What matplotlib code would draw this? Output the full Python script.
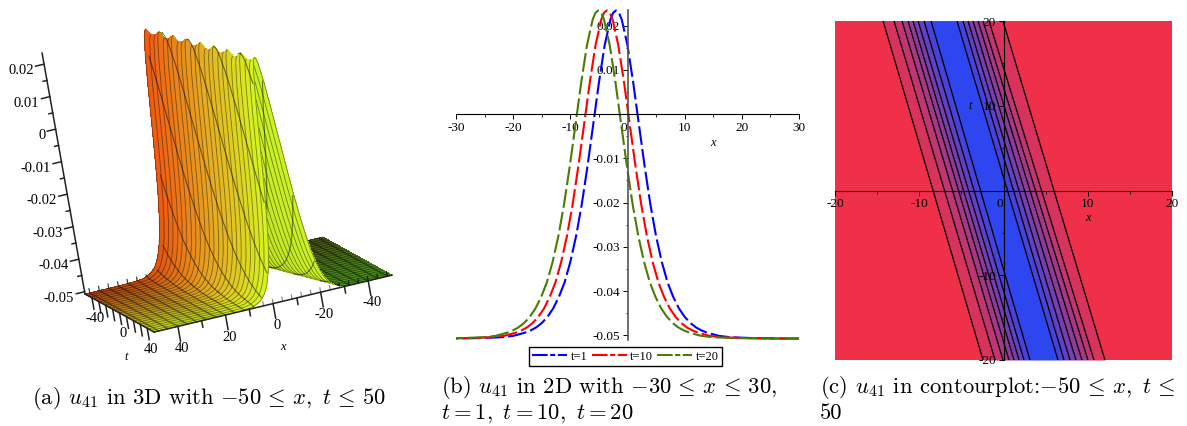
import numpy as np
import matplotlib
matplotlib.use('Agg')
import matplotlib.pyplot as plt
from matplotlib.lines import Line2D
from mpl_toolkits.mplot3d import proj3d

W, H = 1187, 426

# wave profile: distance from crest -> u
offset = [0, 0.5, 1, 2, 3, 4, 5, 6, 7, 8, 9, 10, 11, 12, 13, 14, 15, 16, 18, 20, 24, 30, 75]
profile = [0.0234, 0.0229, 0.0213, 0.0155, 0.0071, -0.0024, -0.0118, -0.0204, -0.0276, -0.0334,
           -0.0380, -0.0413, -0.0439, -0.0458, -0.0472, -0.0482, -0.0489, -0.0494, -0.0501,
           -0.0504, -0.0506, -0.0507, -0.0507]

# crest position in panel (b) for t=1, t=10, t=20
peak_x = [-2.0, -3.6, -5.1]
t_labels = ['t=1', 't=10', 't=20']
line_colors = ['#0000ff', '#ff0000', '#4b7b00']

# panel (a): crest heights along the scalloped ridge, crest position at t=-50 and t=50
crest_t = [-50, -45.8, -41.7, -37.5, -33.3, -29.2, -25, -20.8, -16.7, -12.5, -8.3, -4.2, 0, 4.2, 8.3,
           12.5, 16.7, 20.8, 25, 29.2, 33.3, 37.5, 41.7, 45.8, 50]
crest_u = [.0232, .0218, .0221, .0234, .0219, .0220, .0234, .0218, .0222, .0234, .0218, .0221, .0234,
           .0219, .0220, .0234, .0218, .0222, .0234, .0218, .0221, .0234, .0219, .0220, .0232]
crest_ends = [6.6, -10.2]
x_lines = [-48, -44, -40, -36, -32, -28, -24, -20, -16, -12, -8, -4, 0, 4, 8, 12, 16, 20, 24, 28, 32,
           36, 40, 44, 48]

# panel (c): contour lines, x at t=20 and at t=-20
contour_top = [-14.29, -12.99, -12.04, -11.33, -10.74, -10.14, -9.43, -8.60,
               -5.52, -4.80, -4.21, -3.62, -3.02, -2.43, -1.72, -0.06]
contour_bottom = [-2.43, -1.01, -0.06, 0.65, 1.25, 1.84, 2.43, 3.14,
                  6.47, 7.18, 7.89, 8.60, 9.31, 10.02, 10.74, 12.04]

plt.rcParams['mathtext.fontset'] = 'cm'
plt.rcParams['axes.unicode_minus'] = False
plt.rcParams['font.family'] = ['Liberation Serif', 'DejaVu Serif']

fig = plt.figure(figsize=(W / 100, H / 100), dpi=100)


def px_axes(x0, y0, x1, y1, **kw):
    return fig.add_axes([x0 / W, 1 - y1 / H, (x1 - x0) / W, (y1 - y0) / H], **kw)


def mix(a, b, f):
    f = np.asarray(f)[..., None]
    return np.asarray(a) * (1 - f) + np.asarray(b) * f


# ---- panel (a)
off = np.array(offset)
prof = np.array(profile)
d_full = np.r_[-off[::-1], off[1:]]
u_full = np.r_[prof[::-1], prof[1:]]
base_u = prof[-1]
slope = (crest_ends[1] - crest_ends[0]) / 100.0
c0 = crest_ends[0] + 50 * slope

T = np.array(crest_t)[:, None] * np.ones(len(d_full))
X = np.clip(c0 + slope * T + d_full, -50, 50)
scale = (np.array(crest_u)[:, None] - base_u) / (prof[0] - base_u)
U = base_u + (u_full - base_u) * scale

ax3 = fig.add_axes([-0.1, -0.3, 0.65, 1.6], projection='3d', proj_type='ortho', computed_zorder=False)
aspect = (1.0087, 0.9395, 1.0)
ax3.set_box_aspect(aspect)
ax3.set_xticks([])
ax3.set_yticks([])
ax3.set_zticks([])
ax3.set_xlim(-50, 50, view_margin=0)
ax3.set_ylim(-50, 50, view_margin=0)
ax3.set_zlim(base_u, prof[0], view_margin=0)
ax3.view_init(elev=12.6, azim=74.9, roll=10.1)
ax3.set_axis_off()


def face_colors(j0, j1):
    tm = (T[:-1, j0:j1 - 1] + T[1:, j0:j1 - 1]) / 2
    xm = X[:-1, j0:j1 - 1]
    dm = d_full[j0:j1 - 1] * np.ones_like(xm)
    f = (tm + 50) / 100
    warm = np.where(f[..., None] < 0.5, mix((.94, .35, .07), (.90, .66, .14), f * 2),
                    mix((.90, .66, .14), (.84, .96, .14), f * 2 - 1))
    shade = np.clip(1.0 - (xm - 12) / 38 * 0.42, 0.58, 1.0)
    col = warm * shade[..., None]
    lime = mix((.68, .84, .12), (.80, .95, .16), f)
    col = np.where(dm[..., None] < 0, lime, col)
    dark = mix((.28, .32, .08), (.30, .58, .10), f)
    return np.where(dm[..., None] < -16, dark, col)


def draw_sheet(d_lo, d_hi, z):
    j0 = np.where(d_full >= d_lo)[0][0]
    j1 = np.where(d_full <= d_hi)[0][-1] + 1
    ax3.plot_surface(X[:, j0:j1], T[:, j0:j1], U[:, j0:j1], facecolors=face_colors(j0, j1), shade=False,
                     rstride=1, cstride=1, linewidth=0, antialiased=False, zorder=z)
    for i in range(len(crest_t)):
        ax3.plot(X[i, j0:j1], T[i, j0:j1], U[i, j0:j1], color='black', alpha=0.45, lw=0.6, zorder=z + 0.1)
    dd = d_full[j0:j1]
    uu = u_full[j0:j1]
    for xl in x_lines:
        tl = (xl - dd - c0) / slope
        # the steep part stops at the edge of the sheet, the flat part runs along the ground up to it
        steep = (np.abs(dd) <= 16) & (np.abs(tl) <= 50)
        flat = np.abs(dd) >= 16
        for keep in (steep, flat):
            if keep.sum() > 1:
                ax3.plot(np.full(keep.sum(), xl), np.clip(tl[keep], -50, 50), uu[keep], color='black',
                         alpha=0.5, lw=0.8, zorder=z + 0.2)


draw_sheet(-75, -16, 1)
draw_sheet(-16, 0, 2)
draw_sheet(0, 75, 3)

axis_kw = dict(color='#222222', lw=1.1, zorder=6)
ax3.plot([50, -50], [50, 50], [base_u, base_u], **axis_kw)
ax3.plot([50, 50], [-50, 50], [base_u, base_u], **axis_kw)
ax3.plot([50, 50], [-50, -50], [base_u, prof[0]], **axis_kw)
for v in range(-40, 41, 10):
    ax3.plot([v, v], [50, 50], [base_u, base_u - (0.0045 if v % 20 == 0 else 0.002)], **axis_kw)
    ax3.plot([50, 50], [v, v], [base_u, base_u - 0.0035], **axis_kw)
for v in [40, 20, 0, -20, -40]:
    ax3.text(v, 50, base_u - 0.0068, str(v), ha='center', va='center', fontsize=10.5, zorder=7)
for v in [-40, 0, 40]:
    ax3.text(50, v, base_u - 0.0064, str(v), ha='center', va='center', fontsize=10.5, zorder=7)
for k in range(-10, 5):
    ux = k * 0.005
    major = k % 2 == 0
    ax3.plot([50, 50 + (3.5 if major else 1.6)], [-50, -50], [ux, ux], **axis_kw)
    if major:
        lab = '0' if k == 0 else ('%.2f' % ux)
        ax3.text(54.6, -50, ux - 0.0012, lab, ha='right', va='center', fontsize=10.5, zorder=7)
ax3.text(-1, 50, base_u - 0.0135, 'x', style='italic', ha='center', va='center', fontsize=9, zorder=7)
ax3.text(50, -1, base_u - 0.0135, 't', style='italic', ha='center', va='center', fontsize=9, zorder=7)


def corner_px(x, t, u):
    px, py, _ = proj3d.proj_transform(x, t, u, ax3.get_proj())
    return ax3.transData.transform((px, py))


# fit the 3d box to the left and right ground corners of the reference
target_l = np.array([85, H - 294])
target_r = np.array([392, H - 275])
fig.canvas.draw()
a, b = corner_px(50, -50, base_u), corner_px(-50, 50, base_u)
ax3.set_box_aspect(aspect, zoom=np.linalg.norm(target_r - target_l) / np.linalg.norm(b - a))
fig.canvas.draw()
shift = target_l - corner_px(50, -50, base_u)
pos = ax3.get_position()
ax3.set_position([pos.x0 + shift[0] / W, pos.y0 + shift[1] / H, pos.width, pos.height])

# ---- panel (b)
ax2 = px_axes(456, 5, 799, 342)
ax2.patch.set_visible(False)
ax2.set_xlim(-30, 30)
ax2.set_ylim(-0.05148, 0.02463)
for px, col in zip(peak_x, line_colors):
    ax2.plot(np.r_[px - off[::-1], px + off[1:]], u_full, color=col, lw=1.5, dashes=(9, 2.0))
for s in ['top', 'right']:
    ax2.spines[s].set_visible(False)
ax2.spines['bottom'].set_position(('data', 0))
ax2.spines['left'].set_position(('data', 0))
ax2.spines['left'].set_bounds(-0.05103, 0.0235)
ax2.spines['left'].set_color('#555555')
ax2.spines['left'].set_linewidth(1.2)
ax2.set_xticks(range(-30, 31, 10), ['-30', '-20', '-10', '0', '10', '20', '30'], fontsize=9.5)
ax2.set_xticks(range(-25, 26, 10), minor=True)
ax2.set_yticks([0.02, 0.01, -0.01, -0.02, -0.03, -0.04, -0.05],
               ['0.02', '0.01', '-0.01', '-0.02', '-0.03', '-0.04', '-0.05'], fontsize=9.5)
ax2.set_yticks(np.arange(-0.045, 0.02, 0.01), minor=True)
ax2.tick_params(length=3.5, width=0.7, pad=2)
ax2.tick_params(which='minor', length=1.8, width=0.6)
ax2.get_xticklabels()[3].set_ha('right')
ax2.text(15, -0.0065, 'x', style='italic', ha='center', va='center', fontsize=9)
handles = [Line2D([], [], color=c, lw=1.5, dashes=(7.5, 1.2, 2.5, 1.2), label=l)
           for c, l in zip(line_colors, t_labels)]
fig.legend(handles=handles, ncol=3, loc='center', bbox_to_anchor=(625.5 / W, 1 - 356.5 / H), fontsize=9,
           fancybox=False, edgecolor='black', framealpha=1, handlelength=2.8, handletextpad=0.3,
           columnspacing=0.3, borderpad=0.25, borderaxespad=0)

# ---- panel (c)
ax1 = px_axes(835, 21, 1172, 360)
ax1.set_xlim(-20, 20)
ax1.set_ylim(-20, 20)
ax1.set_facecolor('#f03048')
red, blue = np.array((240, 48, 72)) / 255, np.array((45, 70, 240)) / 255
n = len(contour_top)
band_f = [min(i + 1, n - i - 1) / (n / 2) for i in range(n - 1)]
for i in range(n - 1):
    ax1.fill_betweenx([20, -20], [contour_top[i], contour_bottom[i]], [contour_top[i + 1], contour_bottom[i + 1]],
                      color=red * (1 - band_f[i]) + blue * band_f[i], lw=0)
for top, bot in zip(contour_top, contour_bottom):
    ax1.plot([top, bot], [20, -20], color='black', lw=0.9)
for s in ['top', 'right']:
    ax1.spines[s].set_visible(False)
ax1.spines['bottom'].set_position(('data', 0))
ax1.spines['left'].set_position(('data', 0))
ax1.set_xticks([-20, -10, 0, 10, 20], ['-20', '-10', '0', '10', '20'], fontsize=9.5)
ax1.set_xticks([-15, -5, 5, 15], minor=True)
ax1.set_yticks([20, 10, -10, -20], ['20', '10', '-10', '-20'], fontsize=9.5)
ax1.set_yticks([15, 5, -5, -15], minor=True)
ax1.tick_params(length=3.5, width=0.7, pad=2)
ax1.tick_params(which='minor', length=1.8, width=0.6)
ax1.get_xticklabels()[2].set_ha('right')
ax1.text(10, -3.2, 'x', style='italic', ha='center', va='center', fontsize=9, clip_on=False)
ax1.text(-4, 10, 't', style='italic', ha='center', va='center', fontsize=9)

# ---- captions
cap = dict(family='cmr10', fontsize=16.3, ha='left', va='baseline')
fig.text(32 / W, 1 - 404 / H, r'(a) $u_{41}$ in 3D with $-50\,\leq\, x,\ t\,\leq\, 50$', **cap)
fig.text(441 / W, 1 - 393 / H, r'(b) $u_{41}$ in 2D with $-30\,\leq\, x\,\leq\, 30,$', **cap)
fig.text(441 / W, 1 - 419 / H, r'$t=1,\ t=10,\ t=20$', **cap)
fig.text(820 / W, 1 - 393 / H, r'(c) $u_{41}$ in contourplot:$-50\,\leq\, x,\ t\,\leq$', **cap)
fig.text(820 / W, 1 - 419 / H, '50', **cap)

fig.savefig('out.png', dpi=100)
